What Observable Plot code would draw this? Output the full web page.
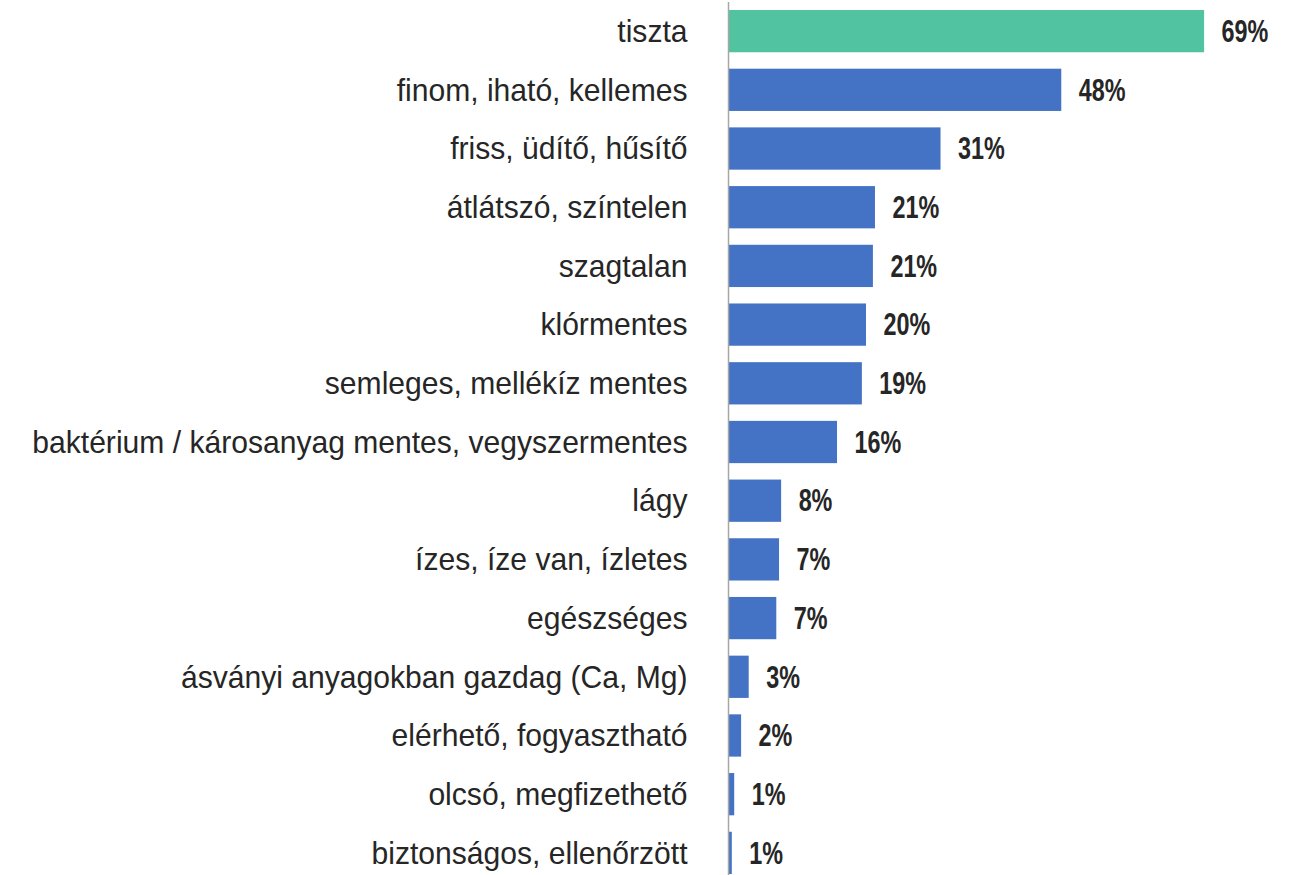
<!DOCTYPE html>
<html>
<head>
<meta charset="utf-8">
<script src="https://cdn.jsdelivr.net/npm/d3@7"></script>
<script src="https://cdn.jsdelivr.net/npm/@observablehq/plot@0.6"></script>
<style>
  html, body { margin: 0; padding: 0; background: #fff; }
</style>
</head>
<body>
<div id="chart"></div>
<script>
const categories = [
  "tiszta",
  "finom, iható, kellemes",
  "friss, üdítő, hűsítő",
  "átlátszó, színtelen",
  "szagtalan",
  "klórmentes",
  "semleges, mellékíz mentes",
  "baktérium / károsanyag mentes, vegyszermentes",
  "lágy",
  "ízes, íze van, ízletes",
  "egészséges",
  "ásványi anyagokban gazdag (Ca, Mg)",
  "elérhető, fogyasztható",
  "olcsó, megfizethető",
  "biztonságos, ellenőrzött"
];
const values = [69, 48.3, 30.8, 21.3, 21.0, 20.0, 19.4, 15.8, 7.7, 7.4, 7.0, 3.0, 1.9, 0.9, 0.55];
const highlight = ["tiszta"];

const data = categories.map((c, i) => ({label: c, value: values[i], hi: highlight.includes(c)}));

const chart = Plot.plot({
  width: 1296,
  height: 875,
  marginLeft: 728,
  marginRight: 16,
  marginTop: 10,
  marginBottom: 1,
  style: {fontFamily: "'Liberation Sans', Arial, sans-serif", fontSize: "32px", color: "#262626", background: "#fff"},
  x: {domain: [0, 80], axis: null},
  y: {domain: categories, paddingInner: 0.28, paddingOuter: 0, round: false, label: null},
  marks: [
    Plot.barX(data, {x: "value", y: "label", fill: d => d.hi ? "#52C3A0" : "#4472C4"}),
    Plot.ruleX([0], {stroke: "#A6A6A6", strokeWidth: 1.5, insetTop: -8, insetBottom: -1}),
    Plot.axisY({tickSize: 0, tickPadding: 41, label: null}),
    Plot.text(data, {x: "value", y: "label", text: d => Math.round(d.value) + "%", dx: 17, textAnchor: "start", fontWeight: "bold", fontSize: 32, fill: "#262626", className: "vlabels"})
  ]
});
// condensed look: compress glyphs horizontally around their anchor points
chart.querySelectorAll('g[aria-label="y-axis tick label"] text').forEach(t => {
  t.setAttribute("transform", (t.getAttribute("transform") || "") + " scale(0.94,1)");
});
chart.querySelectorAll('g[aria-label="text"] text').forEach(t => {
  t.setAttribute("transform", (t.getAttribute("transform") || "") + " scale(0.73,1)");
});
document.getElementById("chart").appendChild(chart);
</script>
</body>
</html>
